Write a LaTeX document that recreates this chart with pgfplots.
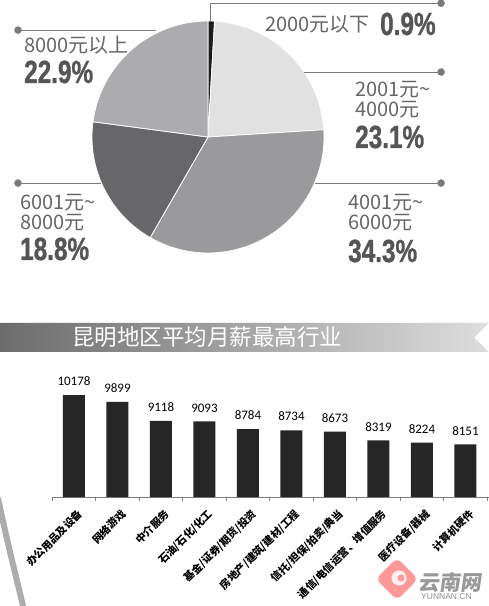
\documentclass[border=0pt]{standalone}
\usepackage{pgfplots}
\pgfplotsset{compat=1.18}
\usepackage{graphicx}
\usepackage{fontspec}
\setmainfont{Noto Sans CJK SC}
\newfontfamily\cjk{Noto Sans CJK SC}
\newfontfamily\carl{Carlito}
\newfontfamily\pctf{Liberation Sans}[BoldFeatures={FakeBold=1.2}]
\newfontfamily\plainf{Liberation Sans}
\definecolor{sA}{HTML}{1C1C1C}
\definecolor{sB}{HTML}{E1E1E2}
\definecolor{sC}{HTML}{9A9A9C}
\definecolor{sD}{HTML}{67676A}
\definecolor{sE}{HTML}{ACACAE}
\definecolor{leadc}{HTML}{7A7A7A}
\definecolor{txtc}{HTML}{666666}
\definecolor{pctc}{HTML}{555555}
\definecolor{bnL}{HTML}{6C6C6C}
\definecolor{bnR}{HTML}{DEDEDE}
\definecolor{barc}{HTML}{262626}
\definecolor{axc}{HTML}{808080}
\newcommand{\pct}[1]{\scalebox{0.76}[1]{\pctf\bfseries\fontsize{32}{32}\selectfont #1}}
\newcommand{\lt}{\cjk\fontsize{20}{20}\selectfont}
\begin{document}
\begin{tikzpicture}[x=1pt,y=1pt]
\useasboundingbox (0,0) rectangle (489,606);
\fill[white] (0,0) rectangle (489,606);
\begin{scope}
\clip (0,0) rectangle (489,606);
% pie data (percent)
\def\pA{0.9}\def\pB{23.1}\def\pC{34.3}\def\pD{18.8}\def\pE{22.9}
\pgfmathsetmacro{\aA}{90}
\pgfmathsetmacro{\aB}{\aA-3.6*\pA}
\pgfmathsetmacro{\aC}{\aB-3.6*\pB}
\pgfmathsetmacro{\aD}{\aC-3.6*\pC}
\pgfmathsetmacro{\aE}{\aD-3.6*\pD}
\pgfmathsetmacro{\aF}{\aE-3.6*\pE}
\begin{axis}[at={(208pt,469pt)}, anchor=center, scale only axis,
  width=232pt, height=232pt, xmin=-1, xmax=1, ymin=-1, ymax=1,
  hide axis, clip=false]
\addplot[fill=sA, draw=white, line width=0.8pt, domain=\aB:\aA, samples=8, variable=\t] ({cos(\t)},{sin(\t)}) -- (axis cs:0,0) -- cycle;
\addplot[fill=sB, draw=white, line width=0.8pt, domain=\aC:\aB, samples=60, variable=\t] ({cos(\t)},{sin(\t)}) -- (axis cs:0,0) -- cycle;
\addplot[fill=sC, draw=white, line width=0.8pt, domain=\aD:\aC, samples=80, variable=\t] ({cos(\t)},{sin(\t)}) -- (axis cs:0,0) -- cycle;
\addplot[fill=sD, draw=white, line width=0.8pt, domain=\aE:\aD, samples=50, variable=\t] ({cos(\t)},{sin(\t)}) -- (axis cs:0,0) -- cycle;
\addplot[fill=sE, draw=white, line width=0.8pt, domain=\aF:\aE, samples=60, variable=\t] ({cos(\t)},{sin(\t)}) -- (axis cs:0,0) -- cycle;
% leader lines
\addplot[leadc, line width=0.9pt] coordinates {(0.017,1.0) (0.017,1.153) (2.009,1.153)};
\addplot[leadc, line width=0.9pt] coordinates {(0.83,0.560) (2.009,0.560)};
\addplot[leadc, line width=0.9pt] coordinates {(0.925,-0.397) (2.009,-0.397)};
\addplot[leadc, line width=0.9pt] coordinates {(-0.925,-0.397) (-1.638,-0.397)};
\addplot[leadc, line width=0.9pt] coordinates {(-0.448,0.922) (-1.638,0.922)};
\addplot[only marks, mark=*, mark size=3.5pt, color=leadc] coordinates {(2.009,1.153) (2.009,0.560) (2.009,-0.397) (-1.638,-0.397) (-1.638,0.922)};
\end{axis}
% pie labels
\node[anchor=base west, inner sep=0, text=txtc, font=\lt] at (265,574) {2000元以下};
\node[anchor=base west, inner sep=0, text=pctc] at (380,571) {\pct{0.9\%}};
\node[anchor=base west, inner sep=0, text=txtc, font=\lt] at (24,553) {8000元以上};
\node[anchor=base west, inner sep=0, text=pctc] at (24,523) {\pct{22.9\%}};
\node[anchor=base west, inner sep=0, text=txtc, font=\lt] at (355,509) {2001元\char"7E};
\node[anchor=base west, inner sep=0, text=txtc, font=\lt] at (355,489) {4000元};
\node[anchor=base west, inner sep=0, text=pctc] at (355,458) {\pct{23.1\%}};
\node[anchor=base west, inner sep=0, text=txtc, font=\lt] at (348,396) {4001元\char"7E};
\node[anchor=base west, inner sep=0, text=txtc, font=\lt] at (348,376) {6000元};
\node[anchor=base west, inner sep=0, text=pctc] at (348,344) {\pct{34.3\%}};
\node[anchor=base west, inner sep=0, text=txtc, font=\lt] at (20,396) {6001元\char"7E};
\node[anchor=base west, inner sep=0, text=txtc, font=\lt] at (20,376) {8000元};
\node[anchor=base west, inner sep=0, text=pctc] at (20,346) {\pct{18.8\%}};
% banner
\shade[left color=bnL, right color=bnR] (0,283) -- (489,283) -- (474,268.5) -- (489,254) -- (0,254) -- cycle;
\node[anchor=west, inner sep=0, text=white, font=\cjk\fontsize{22.5}{22.5}\selectfont] at (72,269) {昆明地区平均月薪最高行业};
% bar chart
\begin{axis}[at={(52.25pt,109pt)}, anchor=south west, scale only axis,
  width=436.7pt, height=126.95pt,
  xmin=-0.5, xmax=9.54, ymin=6000, ymax=11200,
  axis x line*=bottom, axis y line=none,
  axis line style={axc, line width=0.9pt, -},
  ybar, bar width=22pt,
  xtick={0,...,9},
  xticklabels={办公用品及设备,网络游戏,中介服务,石油/石化/化工,基金/证券/期货/投资,房地产/建筑/建材/工程,信托/担保/拍卖/典当,通信/电信运营、增值服务,医疗设备/器械,计算机硬件},
  major tick length=0pt,
  minor xtick={-0.5,0.5,...,9.5},
  minor tick length=4pt, tick align=outside,
  minor tick style={axc, line width=0.8pt},
  x tick label style={font=\cjk\bfseries\fontsize{10.5}{10.5}\selectfont, xshift=6.5pt, yshift=-15pt, rotate=45, anchor=east, inner sep=0pt},
  nodes near coords,
  nodes near coords style={font=\carl\fontsize{13}{13}\selectfont, anchor=south, inner sep=0pt, yshift=9pt, text=black},
  /pgf/number format/fixed, /pgf/number format/precision=0,
  /pgf/number format/1000 sep={}, /pgf/number format/assume math mode=true,
  clip=true]
\addplot[fill=barc, draw=none] coordinates {(0,10178) (1,9899) (2,9118) (3,9093) (4,8784) (5,8734) (6,8673) (7,8319) (8,8224) (9,8151)};
\end{axis}
% decorations
\draw[line width=6pt, color=sE] (-2,108) .. controls (8,60) and (16,30) .. (24,-4);
\fill[red!40!white, rounded corners=6pt, rotate around={45:(397,27)}] (382,12) rectangle (412,42);
\fill[white, opacity=0.85] (399,28) circle (7.5);
\fill[red!40!white] (401,28) circle (3.5);
\node[anchor=base west, inner sep=0, text=black!40, font=\cjk\bfseries\fontsize{21}{21}\selectfont, xslant=0.15] at (418,16) {云南网};
\node[anchor=base west, inner sep=0, text=black!45, font=\plainf\fontsize{8.5}{8.5}\selectfont] at (421,6) {YUNNAN.CN};
\end{scope}
\end{tikzpicture}
\end{document}
